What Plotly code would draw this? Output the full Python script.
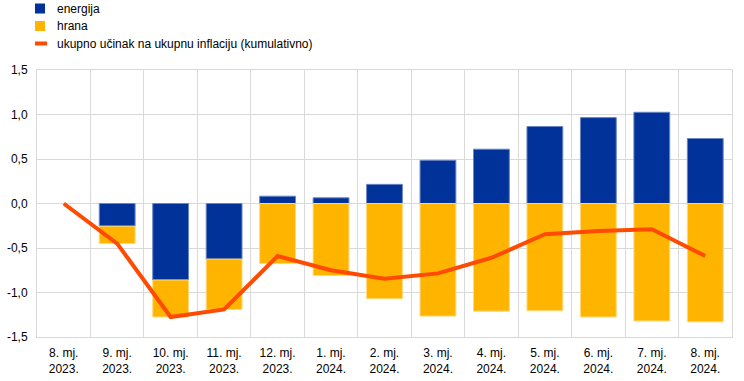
import plotly.graph_objects as go

categories = ["8. mj.<br>2023.", "9. mj.<br>2023.", "10. mj.<br>2023.", "11. mj.<br>2023.",
              "12. mj.<br>2023.", "1. mj.<br>2024.", "2. mj.<br>2024.", "3. mj.<br>2024.",
              "4. mj.<br>2024.", "5. mj.<br>2024.", "6. mj.<br>2024.", "7. mj.<br>2024.",
              "8. mj.<br>2024."]
energija = [None, -0.255, -0.86, -0.625, 0.082, 0.064, 0.215, 0.485, 0.61, 0.865, 0.965, 1.025, 0.73]
hrana = [None, -0.195, -0.415, -0.565, -0.675, -0.81, -1.07, -1.265, -1.21, -1.205, -1.275, -1.32, -1.33]
ukupno = [0.0, -0.45, -1.275, -1.19, -0.59, -0.75, -0.845, -0.785, -0.61, -0.345, -0.31, -0.29, -0.59]
y_ticks = [-1.5, -1.0, -0.5, 0.0, 0.5, 1.0, 1.5]
y_labels = ["-1,5", "-1,0", "-0,5", "0,0", "0,5", "1,0", "1,5"]
legend_names = ["energija", "hrana", "ukupno učinak na ukupnu inflaciju (kumulativno)"]

BLUE = "#003299"
YELLOW = "#FFB400"
ORANGE = "#FF4B00"

W, H = 744, 381
ML, MR, MT, MB = 37, 12, 70, 44
PW, PH = W - ML - MR, H - MT - MB


def px(x):
    return (x - ML) / PW


def py(y):
    return (H - MB - y) / PH


fig = go.Figure()
fig.add_trace(go.Bar(x=categories, y=energija, name=legend_names[0],
                     marker=dict(color=BLUE, line=dict(color="#6b85c4", width=1))))
fig.add_trace(go.Bar(x=categories, y=hrana, name=legend_names[1],
                     marker=dict(color=YELLOW, line=dict(color="#ffd97a", width=1))))
fig.add_trace(go.Scatter(x=categories, y=ukupno, name=legend_names[2],
                         mode="lines", line=dict(color=ORANGE, width=4)))

# custom legend (paper coordinates)
shapes = []
annotations = []
rows_y = [8.5, 26, 43.5]
colors = [BLUE, YELLOW, ORANGE]
for i, (name, c, ry) in enumerate(zip(legend_names, colors, rows_y)):
    if i < 2:
        shapes.append(dict(type="rect", xref="paper", yref="paper",
                           x0=px(35), x1=px(45), y0=py(ry - 5), y1=py(ry + 5),
                           fillcolor=c, line=dict(width=0)))
    else:
        shapes.append(dict(type="line", xref="paper", yref="paper",
                           x0=px(35), x1=px(47), y0=py(ry), y1=py(ry),
                           line=dict(color=c, width=4)))
    annotations.append(dict(text=name, xref="paper", yref="paper", x=px(55), y=py(ry),
                            xanchor="left", yanchor="middle", showarrow=False,
                            font=dict(size=12, color="#000000")))

fig.update_layout(
    barmode="relative",
    bargap=0.33,
    width=W, height=H,
    margin=dict(l=ML, r=MR, t=MT, b=MB, autoexpand=False),
    paper_bgcolor="white", plot_bgcolor="white",
    font=dict(family="Liberation Sans, Arial, sans-serif", size=12, color="#000000"),
    showlegend=False,
    shapes=shapes,
    annotations=annotations,
    xaxis=dict(tickson="boundaries", showgrid=True, gridcolor="#d9d9d9", gridwidth=1,
               showline=True, linecolor="#d9d9d9", mirror=True, ticks="",
               tickfont=dict(size=12), ticklabelstandoff=5),
    yaxis=dict(range=[-1.5, 1.5], tickvals=y_ticks, ticktext=y_labels, showgrid=True,
               gridcolor="#d9d9d9", gridwidth=1, zeroline=False, showline=True,
               linecolor="#d9d9d9", mirror=True, ticks="", tickfont=dict(size=12),
               ticklabelstandoff=6),
)

fig.write_html("out.html", config={"displayModeBar": False},
               post_script="document.body.style.margin='0';")
